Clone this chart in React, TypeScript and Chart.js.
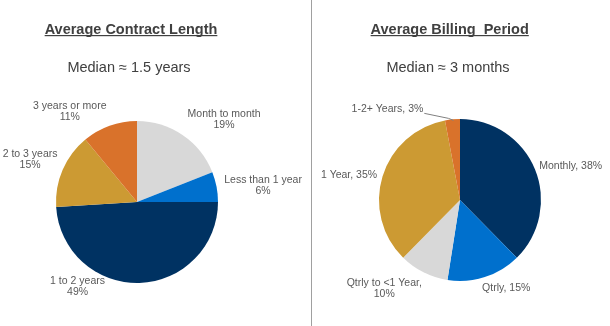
import React, { useEffect, useRef } from "react";
import { Chart, registerables } from "chart.js";

Chart.register(...registerables);

// ---- Data ----
const leftCategories = ["Month to month", "Less than 1 year", "1 to 2 years", "2 to 3 years", "3 years or more"];
const leftValues = [19, 6, 49, 15, 11];
const rightCategories = ["Monthly", "Qtrly", "Qtrly to <1 Year", "1 Year", "1-2+ Years"];
const rightValues = [38, 15, 10, 35, 3];

const leftTitle = "Average Contract Length";
const leftSubtitle = "Median \u2248 1.5 years";
const rightTitle = "Average Billing  Period";
const rightSubtitle = "Median \u2248 3 months";

// ---- Styles / layout ----
const leftColors = ["#d8d8d8", "#0070cd", "#003262", "#cc9a33", "#d9722b"];
const rightColors = ["#003262", "#0070cd", "#d8d8d8", "#cc9a33", "#d9722b"];
// offsets of label centre from the slice's outer mid-point
const leftLabelOffsets = [[41.5, -15.5], [46.5, -1.3], [-62, 4], [-32.6, -10.5], [-39.8, -14]];
const rightLabelOffsets = [[35.7, -3.5], [21.4, 11.2], [-39.3, 16], [-33.5, -1.6], [-65, -10]];
const rightLabelWrap = [false, false, true, false, false];
const rightLeader = [false, false, false, false, true];

const FONT = '"Liberation Sans", Arial, sans-serif';

type Cfg = {
  title: string;
  subtitle: string;
  titleX: number;
  subX: number;
  lines: string[][];
  offsets: number[][];
  leader: boolean[];
};

const annotate = {
  id: "annotate",
  afterDraw(chart: any, _args: any, opts: Cfg) {
    const ctx = chart.ctx as CanvasRenderingContext2D;
    ctx.save();
    // title
    ctx.fillStyle = "#404040";
    ctx.textAlign = "center";
    ctx.textBaseline = "alphabetic";
    ctx.font = `bold 14.5px ${FONT}`;
    ctx.fillText(opts.title, opts.titleX, 33.5);
    const tw = ctx.measureText(opts.title).width;
    ctx.fillRect(opts.titleX - tw / 2, 35, tw, 1.2);
    ctx.font = `14.5px ${FONT}`;
    ctx.fillText(opts.subtitle, opts.subX, 72);

    // slice labels
    const meta = chart.getDatasetMeta(0);
    ctx.font = `10.5px ${FONT}`;
    ctx.fillStyle = "#595959";
    ctx.textBaseline = "middle";
    meta.data.forEach((arc: any, i: number) => {
      const p = arc.getProps(["x", "y", "startAngle", "endAngle", "outerRadius"], true);
      const mid = (p.startAngle + p.endAngle) / 2;
      const ox = p.x + p.outerRadius * Math.cos(mid);
      const oy = p.y + p.outerRadius * Math.sin(mid);
      const cx = ox + opts.offsets[i][0];
      const cy = oy + opts.offsets[i][1];
      const lines = opts.lines[i];
      const lh = 11;
      const y0 = cy - ((lines.length - 1) * lh) / 2;
      lines.forEach((t, k) => ctx.fillText(t, cx, y0 + k * lh));
      if (opts.leader[i]) {
        const w = ctx.measureText(lines[0]).width;
        ctx.strokeStyle = "#808080";
        ctx.lineWidth = 1;
        ctx.beginPath();
        ctx.moveTo(cx + w / 2 + 1, cy + 4);
        ctx.lineTo(ox - 4, oy - 1);
        ctx.lineTo(ox + 1, oy + 1);
        ctx.stroke();
      }
    });
    ctx.restore();
  },
};

function PieChart(props: {
  values: number[];
  categories: string[];
  colors: string[];
  padding: { left: number; right: number; top: number; bottom: number };
  width: number;
  cfg: Cfg;
}) {
  const ref = useRef<HTMLCanvasElement>(null);
  useEffect(() => {
    if (!ref.current) return;
    const chart = new Chart(ref.current, {
      type: "pie",
      data: {
        labels: props.categories,
        datasets: [
          {
            data: props.values,
            backgroundColor: props.colors,
            borderWidth: 0,
          },
        ],
      },
      options: {
        animation: false,
        responsive: false,
        layout: { padding: props.padding },
        plugins: {
          legend: { display: false },
          tooltip: { enabled: false },
          annotate: props.cfg,
        } as any,
      },
      plugins: [annotate],
    });
    return () => chart.destroy();
  }, []);
  return <canvas ref={ref} width={props.width} height={326} style={{ width: props.width, height: 326, display: "block" }} />;
}

export default function App() {
  const leftLines = leftCategories.map((c, i) => [c, `${leftValues[i]}%`]);
  const rightLines = rightCategories.map((c, i) =>
    rightLabelWrap[i] ? [`${c},`, `${rightValues[i]}%`] : [`${c}, ${rightValues[i]}%`]
  );
  return (
    <div style={{ position: "absolute", left: 0, top: 0, width: 610, height: 326, background: "#fff" }}>
      <div style={{ position: "absolute", left: 0, top: 0 }}>
        <PieChart
          values={leftValues}
          categories={leftCategories}
          colors={leftColors}
          width={311}
          padding={{ left: 56, right: 93, top: 121, bottom: 43 }}
          cfg={{
            title: leftTitle,
            subtitle: leftSubtitle,
            titleX: 131,
            subX: 129,
            lines: leftLines,
            offsets: leftLabelOffsets,
            leader: [false, false, false, false, false],
          }}
        />
      </div>
      <div style={{ position: "absolute", left: 311, top: 0, width: 1, height: 326, background: "#a0a0a0" }} />
      <div style={{ position: "absolute", left: 312, top: 0 }}>
        <PieChart
          values={rightValues}
          categories={rightCategories}
          colors={rightColors}
          width={298}
          padding={{ left: 67, right: 69, top: 119, bottom: 45 }}
          cfg={{
            title: rightTitle,
            subtitle: rightSubtitle,
            titleX: 137.7,
            subX: 136,
            lines: rightLines,
            offsets: rightLabelOffsets,
            leader: rightLeader,
          }}
        />
      </div>
    </div>
  );
}
